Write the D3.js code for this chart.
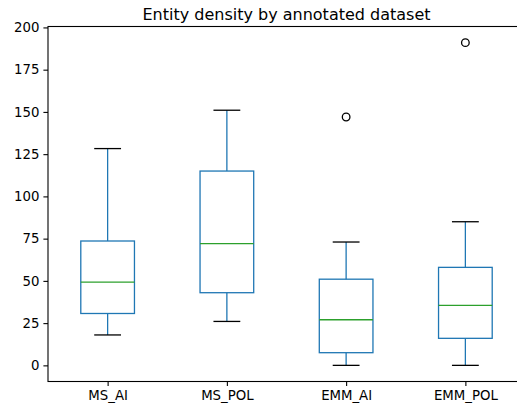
<!DOCTYPE html>
<html>
<head>
<meta charset="utf-8">
<script src="https://cdn.jsdelivr.net/npm/d3@7"></script>
<style>
  body { margin: 0; background: #fff; }
  text { font-family: "DejaVu Sans", sans-serif; fill: #000; }
</style>
</head>
<body>
<div id="chart"></div>
<script>
// box stats
var datasets = ['MS_AI', 'MS_POL', 'EMM_AI', 'EMM_POL']
var whiskLow = [18, 26, 0, 0]
var q1 = [30.7, 43, 7.5, 16]
var medians = [49.3, 72, 27, 35.5]
var q3 = [73.6, 115, 51, 58]
var whiskHigh = [128.3, 151, 73, 85]
var outliers = [[], [], [147], [191]]
var yTicks = [0, 25, 50, 75, 100, 125, 150, 175, 200]

var svgWidth = 517
var svgHeight = 405
var margin = { top: 26.5, left: 48, right: -8, bottom: 23.5 }
var chartWidth = svgWidth - margin.left - margin.right
var chartHeight = svgHeight - margin.top - margin.bottom

var svg = d3.select('#chart')
  .append('svg')
  .attr('width', svgWidth)
  .attr('height', svgHeight)

var chartGroup = svg.append('g')
  .attr('transform', `translate(${margin.left}, ${margin.top})`)

// positions 1..4, xlim 0.5..4.5 like matplotlib
var xScale = d3.scaleLinear().domain([0.5, 4.5]).range([0, chartWidth])
var yScale = d3.scaleLinear().domain([-9.55, 200.55]).range([chartHeight, 0])

var boxW = 0.45
var capW = boxW / 2
var lw = 1.3

var data = datasets.map(function (name, i) {
  return {
    name: name, pos: i + 1,
    lo: whiskLow[i], q1: q1[i], med: medians[i], q3: q3[i], hi: whiskHigh[i],
    fliers: outliers[i]
  }
})

var boxes = chartGroup.selectAll('.box')
  .data(data)
  .enter()
  .append('g')
  .attr('class', 'box')

// whiskers
boxes.append('line')
  .attr('x1', d => xScale(d.pos)).attr('x2', d => xScale(d.pos))
  .attr('y1', d => yScale(d.lo)).attr('y2', d => yScale(d.q1))
  .attr('stroke', '#1f77b4').attr('stroke-width', lw)
boxes.append('line')
  .attr('x1', d => xScale(d.pos)).attr('x2', d => xScale(d.pos))
  .attr('y1', d => yScale(d.q3)).attr('y2', d => yScale(d.hi))
  .attr('stroke', '#1f77b4').attr('stroke-width', lw)

// caps
boxes.append('line')
  .attr('x1', d => xScale(d.pos - capW / 2)).attr('x2', d => xScale(d.pos + capW / 2))
  .attr('y1', d => yScale(d.lo)).attr('y2', d => yScale(d.lo))
  .attr('stroke', '#000').attr('stroke-width', lw)
boxes.append('line')
  .attr('x1', d => xScale(d.pos - capW / 2)).attr('x2', d => xScale(d.pos + capW / 2))
  .attr('y1', d => yScale(d.hi)).attr('y2', d => yScale(d.hi))
  .attr('stroke', '#000').attr('stroke-width', lw)

// box
boxes.append('rect')
  .attr('x', d => xScale(d.pos - boxW / 2))
  .attr('width', d => xScale(d.pos + boxW / 2) - xScale(d.pos - boxW / 2))
  .attr('y', d => yScale(d.q3))
  .attr('height', d => yScale(d.q1) - yScale(d.q3))
  .attr('fill', 'none')
  .attr('stroke', '#1f77b4').attr('stroke-width', lw)

// median
boxes.append('line')
  .attr('x1', d => xScale(d.pos - boxW / 2)).attr('x2', d => xScale(d.pos + boxW / 2))
  .attr('y1', d => yScale(d.med)).attr('y2', d => yScale(d.med))
  .attr('stroke', '#2ca02c').attr('stroke-width', lw)

// fliers
boxes.selectAll('.flier')
  .data(d => d.fliers.map(v => ({ pos: d.pos, v: v })))
  .enter()
  .append('circle')
  .attr('class', 'flier')
  .attr('cx', d => xScale(d.pos))
  .attr('cy', d => yScale(d.v))
  .attr('r', 3.8)
  .attr('fill', 'none')
  .attr('stroke', '#000').attr('stroke-width', lw)

// axes
var leftAxis = d3.axisLeft(yScale).tickValues(yTicks).tickSize(4.6).tickPadding(4)
var bottomAxis = d3.axisBottom(xScale).tickValues([1, 2, 3, 4])
  .tickFormat(d => datasets[d - 1]).tickSize(4.6).tickPadding(4)

var yAxis = chartGroup.append('g').call(leftAxis)
var xAxis = chartGroup.append('g')
  .attr('transform', `translate(0, ${chartHeight})`)
  .call(bottomAxis)

;[xAxis, yAxis].forEach(function (ax) {
  ax.select('.domain').remove()
  ax.selectAll('line').attr('stroke', '#000').attr('stroke-width', 1.1)
  ax.selectAll('text').attr('font-size', '13.3px').attr('fill', '#000')
    .attr('font-family', '"DejaVu Sans", sans-serif')
})

// spines
chartGroup.append('rect')
  .attr('x', 0).attr('y', 0)
  .attr('width', chartWidth).attr('height', chartHeight)
  .attr('fill', 'none').attr('stroke', '#000').attr('stroke-width', 1.1)

// title
svg.append('text')
  .attr('x', margin.left + chartWidth / 2)
  .attr('y', 19.5)
  .attr('text-anchor', 'middle')
  .attr('font-size', '16px')
  .text('Entity density by annotated dataset')
</script>
</body>
</html>
